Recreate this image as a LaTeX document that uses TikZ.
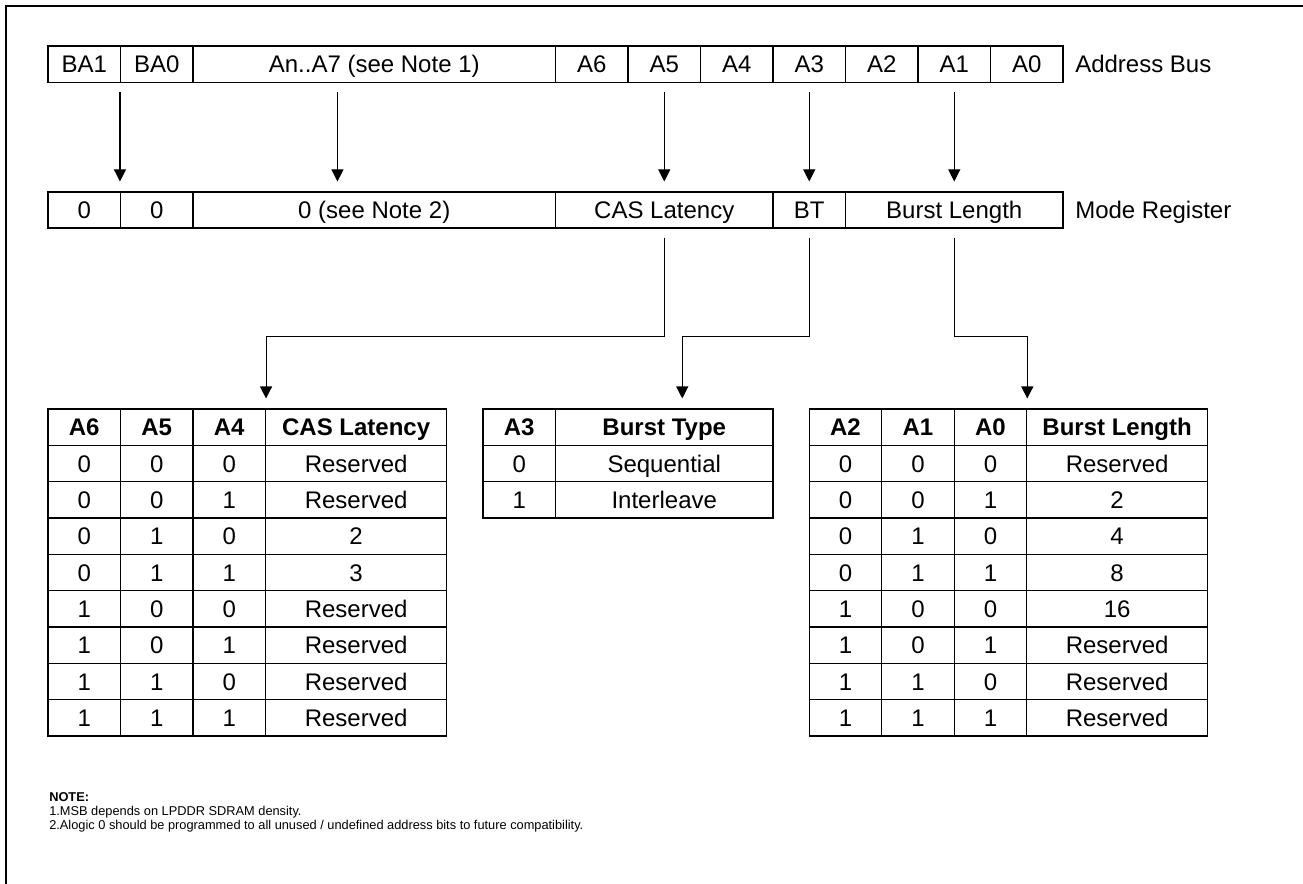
\documentclass[tikz,border=0pt]{standalone}
\usepackage{fontspec}
\setmainfont{Liberation Sans}
\usetikzlibrary{arrows.meta,calc}
\newcommand\mycell[6]{\node[cellsty, minimum width={((#4)-(#2))*0.75pt}, minimum height={((#5)-(#3))*0.75pt}] (#1) at ({((#2)+(#4))/2},{((#3)+(#5))/2}) {#6};}
\begin{document}
\begin{tikzpicture}[x=0.75pt,y=-0.75pt,
  cellsty/.style={draw=black, line width=0.8pt, inner sep=0pt, text height=12.9pt, text depth=0pt, font=\fontsize{18}{20}\selectfont},
  lbl/.style={inner sep=0pt, anchor=west, text height=12.9pt, text depth=0pt, font=\fontsize{18}{20}\selectfont},
  notesty/.style={inner sep=0pt, anchor=base west, font=\fontsize{9.6}{11}\selectfont},
  arr/.style={line width=0.8pt, -{Triangle[width=9pt,length=9pt]}},
  conn/.style={line width=0.8pt}]
\fill[white] (0,0) rectangle (1303,884);
\useasboundingbox (0,0) rectangle (1303,884);
\draw[line width=1.8pt] (6,884) -- (6,6) -- (1303,6);

% Address bus
\mycell{bBA1}{48}{46}{120.5}{82.5}{BA1}
\mycell{bBA0}{120.5}{46}{193}{82.5}{BA0}
\mycell{bAn}{193}{46}{555.5}{82.5}{An..A7 (see Note 1)}
\mycell{bA6}{555.5}{46}{628}{82.5}{A6}
\mycell{bA5}{628}{46}{700.5}{82.5}{A5}
\mycell{bA4}{700.5}{46}{773}{82.5}{A4}
\mycell{bA3}{773}{46}{845.5}{82.5}{A3}
\mycell{bA2}{845.5}{46}{918}{82.5}{A2}
\mycell{bA1}{918}{46}{990.5}{82.5}{A1}
\mycell{bA0}{990.5}{46}{1063}{82.5}{A0}
\node[lbl] (busLabel) at (1075,64.3) {Address Bus};

% Mode register
\mycell{m1}{48}{192}{120.5}{228}{0}
\mycell{m2}{120.5}{192}{193}{228}{0}
\mycell{m3}{193}{192}{555.5}{228}{0 (see Note 2)}
\mycell{mCAS}{555.5}{192}{773}{228}{CAS Latency}
\mycell{mBT}{773}{192}{845.5}{228}{BT}
\mycell{mBL}{845.5}{192}{1063}{228}{Burst Length}
\node[lbl] (modeLabel) at (1075,210) {Mode Register};

% Arrows bus -> mode
\draw[arr] ($(bBA0.south west)+(0,9)$) -- ($(m2.north west)+(0,-10)$);
\draw[arr] ($(bAn.south west)+(145,9)$) -- ($(m3.north west)+(145,-10)$);
\draw[arr] ($(bA5.south)+(0,9)$) -- ($(mCAS.north)+(0,-10)$);
\draw[arr] ($(bA3.south)+(0,9)$) -- ($(mBT.north)+(0,-10)$);
\draw[arr] ($(bA1.south)+(0,9)$) -- ($(mBL.north)+(0,-10)$);

% CAS latency table
\foreach \t [count=\i from 0] in {A6,A5,A4}{
  \pgfmathsetmacro\xa{48+72.5*\i}\pgfmathsetmacro\xb{48+72.5*(\i+1)}
  \mycell{cH\i}{\xa}{409}{\xb}{445.33}{\bfseries\t}}
\mycell{cHL}{265.5}{409}{446.75}{445.33}{\bfseries CAS Latency}
\foreach \a/\b/\c/\v [count=\r] in {0/0/0/Reserved,0/0/1/Reserved,0/1/0/2,0/1/1/3,1/0/0/Reserved,1/0/1/Reserved,1/1/0/Reserved,1/1/1/Reserved}{
  \pgfmathsetmacro\ya{409+36.33*\r}\pgfmathsetmacro\yb{409+36.33*(\r+1)}
  \mycell{cR\r a}{48}{\ya}{120.5}{\yb}{\a}
  \mycell{cR\r b}{120.5}{\ya}{193}{\yb}{\b}
  \mycell{cR\r c}{193}{\ya}{265.5}{\yb}{\c}
  \mycell{cR\r v}{265.5}{\ya}{446.75}{\yb}{\v}}

% Burst type table
\mycell{tH0}{483}{409}{555.5}{445.33}{\bfseries A3}
\mycell{tH1}{555.5}{409}{773}{445.33}{\bfseries Burst Type}
\mycell{tR1a}{483}{445.33}{555.5}{481.67}{0}
\mycell{tR1v}{555.5}{445.33}{773}{481.67}{Sequential}
\mycell{tR2a}{483}{481.67}{555.5}{518}{1}
\mycell{tR2v}{555.5}{481.67}{773}{518}{Interleave}

% Burst length table
\foreach \t [count=\i from 0] in {A2,A1,A0}{
  \pgfmathsetmacro\xa{809.25+72.5*\i}\pgfmathsetmacro\xb{809.25+72.5*(\i+1)}
  \mycell{lH\i}{\xa}{409}{\xb}{445.33}{\bfseries\t}}
\mycell{lHL}{1026.75}{409}{1207.5}{445.33}{\bfseries Burst Length}
\foreach \a/\b/\c/\v [count=\r] in {0/0/0/Reserved,0/0/1/2,0/1/0/4,0/1/1/8,1/0/0/16,1/0/1/Reserved,1/1/0/Reserved,1/1/1/Reserved}{
  \pgfmathsetmacro\ya{409+36.33*\r}\pgfmathsetmacro\yb{409+36.33*(\r+1)}
  \mycell{lR\r a}{809.25}{\ya}{881.75}{\yb}{\a}
  \mycell{lR\r b}{881.75}{\ya}{954.25}{\yb}{\b}
  \mycell{lR\r c}{954.25}{\ya}{1026.75}{\yb}{\c}
  \mycell{lR\r v}{1026.75}{\ya}{1207.5}{\yb}{\v}}

% Connectors mode -> tables
\draw[arr] ($(mCAS.south)+(0,9)$) |- ($(cH2.north east)+(0,-72)$) -- ($(cH2.north east)+(0,-10)$);
\draw[arr] ($(mBT.south)+(0,9)$) |- ($(tH1.north)+(18,-72)$) -- ($(tH1.north)+(18,-10)$);
\draw[arr] ($(mBL.south)+(0,9)$) |- ($(lH2.north east)+(0,-72)$) -- ($(lH2.north east)+(0,-10)$);

% Notes
\node[notesty] (n0) at (49,801) {\bfseries NOTE:};
\node[notesty] (n1) at (49,815) {1.MSB depends on LPDDR SDRAM density.};
\node[notesty] (n2) at (49,829) {2.Alogic 0 should be programmed to all unused / undefined address bits to future compatibility.};
\end{tikzpicture}
\end{document}
